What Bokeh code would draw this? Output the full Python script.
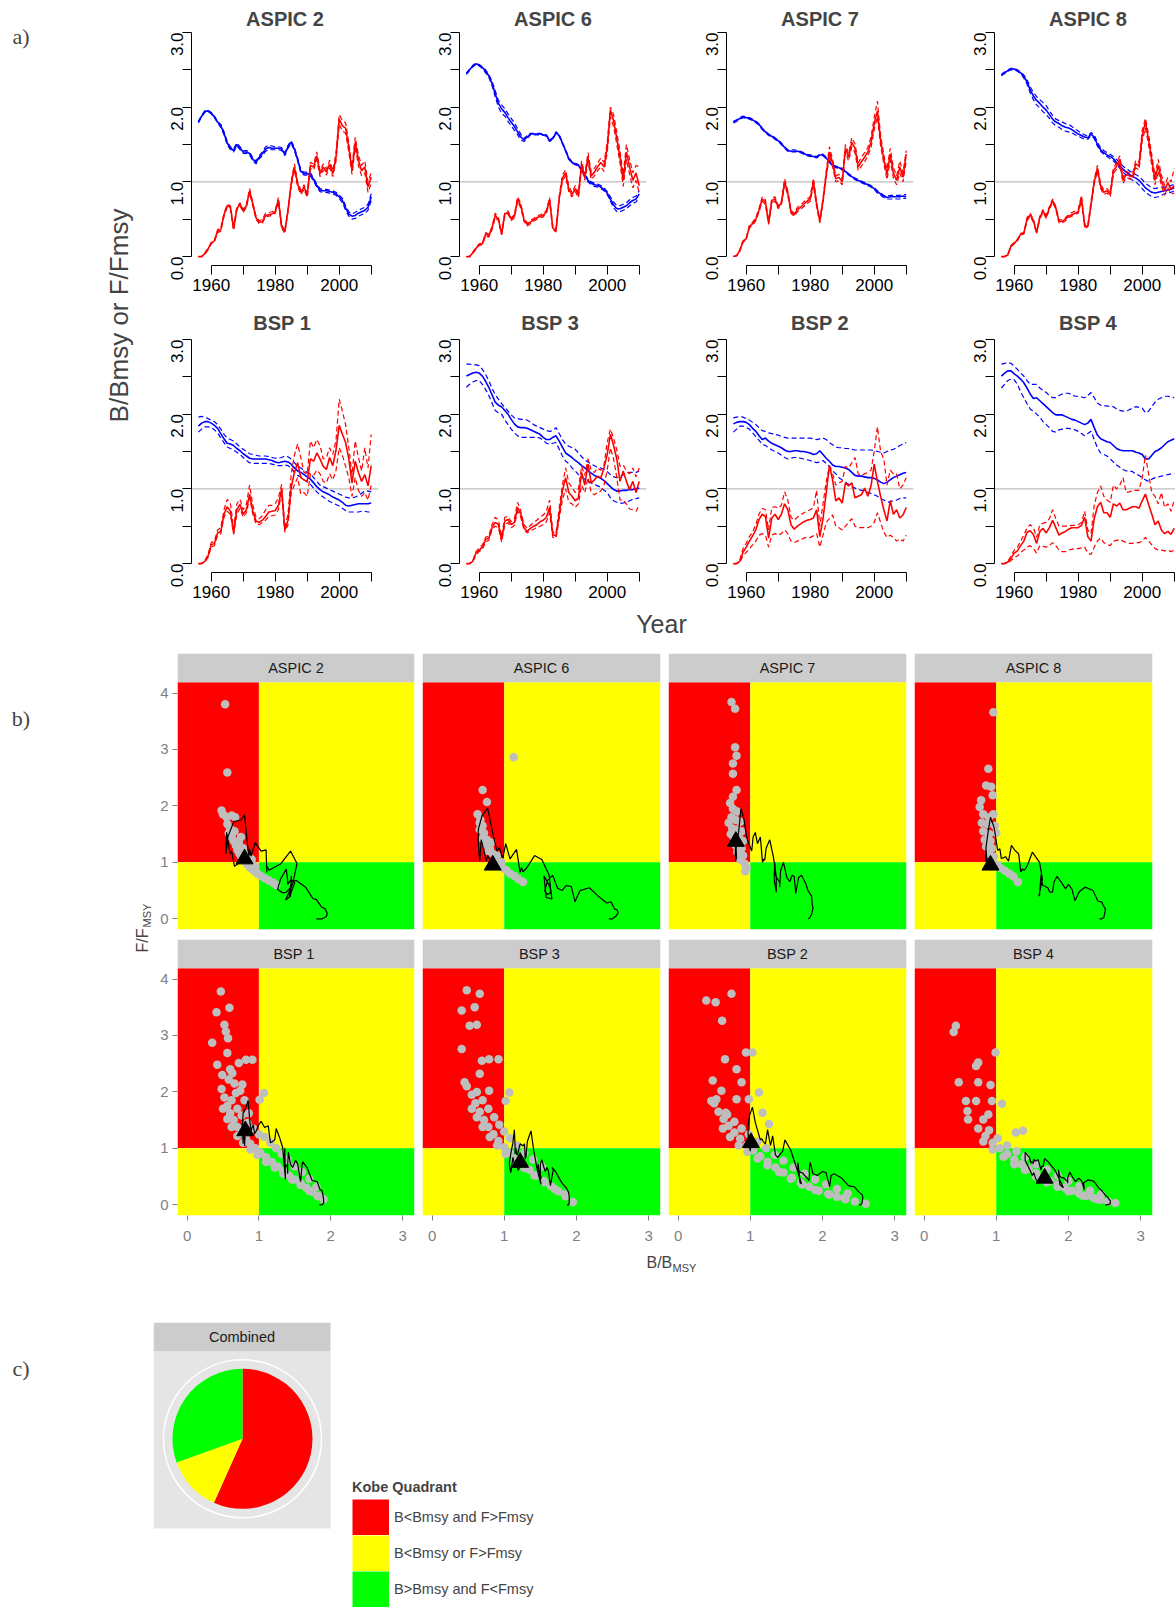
import math
from bokeh.plotting import figure
from bokeh.layouts import row, column
from bokeh.models import (Range1d, FixedTicker, Span, Label, BoxAnnotation, PrintfTickFormatter,
                          Legend, LegendItem)
from bokeh.embed import file_html
from bokeh.resources import INLINE

# ---------------- data: panel a (B/Bmsy blue, F/Fmsy red; median, lower, upper) ----------------
years = list(range(1956, 2011))

aspic2_b_med = [1.80,1.88,1.94,1.95,1.92,1.87,1.80,1.75,1.65,1.52,
 1.45,1.42,1.50,1.45,1.40,1.40,1.38,1.30,1.26,1.33,
 1.38,1.44,1.46,1.45,1.45,1.45,1.44,1.37,1.47,1.53,
 1.44,1.30,1.14,1.11,1.11,1.10,1.03,0.95,0.89,0.88,
 0.88,0.87,0.86,0.84,0.80,0.75,0.65,0.57,0.54,0.55,
 0.58,0.60,0.62,0.66,0.80]
aspic2_b_lo = [1.79,1.87,1.93,1.94,1.91,1.86,1.79,1.73,1.63,1.50,
 1.43,1.40,1.48,1.43,1.38,1.38,1.36,1.28,1.24,1.31,
 1.35,1.41,1.43,1.43,1.43,1.43,1.42,1.35,1.45,1.51,
 1.42,1.28,1.12,1.09,1.09,1.08,1.01,0.93,0.87,0.86,
 0.86,0.85,0.84,0.82,0.78,0.72,0.62,0.54,0.50,0.51,
 0.54,0.56,0.58,0.62,0.75]
aspic2_b_hi = [1.81,1.89,1.95,1.96,1.93,1.88,1.81,1.77,1.67,1.54,
 1.47,1.44,1.52,1.47,1.42,1.42,1.40,1.32,1.28,1.35,
 1.40,1.47,1.49,1.48,1.47,1.47,1.46,1.39,1.49,1.55,
 1.46,1.32,1.16,1.13,1.13,1.12,1.05,0.97,0.91,0.90,
 0.90,0.89,0.88,0.86,0.82,0.78,0.68,0.60,0.57,0.59,
 0.62,0.64,0.66,0.70,0.84]
aspic2_f_med = [0.00,0.00,0.04,0.10,0.18,0.21,0.34,0.36,0.56,0.68,
 0.66,0.37,0.64,0.70,0.61,0.68,0.88,0.70,0.52,0.46,
 0.47,0.55,0.56,0.57,0.60,0.76,0.40,0.33,0.62,0.98,
 1.20,0.97,0.86,0.93,0.82,1.22,1.20,1.35,1.11,1.20,
 1.13,1.24,1.11,1.33,1.84,1.75,1.72,1.46,1.15,1.53,
 1.29,1.15,1.20,0.93,1.06]
aspic2_f_lo = [0.00,0.00,0.03,0.09,0.17,0.20,0.32,0.34,0.54,0.66,
 0.64,0.35,0.62,0.68,0.59,0.66,0.85,0.68,0.50,0.44,
 0.45,0.53,0.54,0.55,0.58,0.73,0.38,0.31,0.60,0.95,
 1.16,0.94,0.83,0.90,0.79,1.18,1.16,1.30,1.07,1.16,
 1.09,1.19,1.07,1.28,1.77,1.68,1.65,1.40,1.10,1.46,
 1.22,1.08,1.12,0.86,0.98]
aspic2_f_hi = [0.00,0.00,0.05,0.11,0.19,0.22,0.36,0.38,0.58,0.70,
 0.68,0.39,0.66,0.72,0.63,0.70,0.91,0.72,0.54,0.48,
 0.50,0.58,0.59,0.60,0.62,0.79,0.42,0.35,0.64,1.01,
 1.24,1.00,0.89,0.96,0.85,1.26,1.24,1.40,1.15,1.24,
 1.17,1.29,1.15,1.38,1.90,1.82,1.79,1.52,1.20,1.60,
 1.36,1.22,1.28,1.00,1.12]

aspic6_b_med = [2.45,2.50,2.55,2.58,2.56,2.53,2.48,2.42,2.32,2.18,
 2.05,1.98,1.93,1.86,1.80,1.74,1.67,1.60,1.56,1.60,
 1.64,1.64,1.64,1.64,1.63,1.62,1.55,1.58,1.66,1.62,
 1.52,1.42,1.31,1.26,1.24,1.22,1.17,1.08,1.02,0.98,
 0.96,0.95,0.93,0.90,0.85,0.77,0.69,0.64,0.64,0.66,
 0.68,0.72,0.75,0.77,0.84]
aspic6_b_lo = [2.44,2.49,2.54,2.57,2.55,2.52,2.46,2.40,2.29,2.14,
 2.00,1.92,1.88,1.81,1.75,1.69,1.63,1.56,1.54,1.58,
 1.63,1.63,1.63,1.63,1.62,1.61,1.54,1.57,1.65,1.61,
 1.51,1.41,1.30,1.25,1.23,1.21,1.15,1.06,1.00,0.96,
 0.94,0.93,0.91,0.88,0.83,0.74,0.65,0.60,0.60,0.62,
 0.64,0.68,0.71,0.73,0.79]
aspic6_b_hi = [2.46,2.51,2.56,2.59,2.57,2.54,2.50,2.44,2.35,2.22,
 2.09,2.03,1.98,1.91,1.85,1.79,1.71,1.64,1.58,1.62,
 1.65,1.65,1.65,1.65,1.64,1.63,1.56,1.59,1.67,1.63,
 1.53,1.43,1.32,1.27,1.25,1.23,1.19,1.10,1.04,1.00,
 0.98,0.97,0.95,0.92,0.87,0.80,0.73,0.68,0.68,0.70,
 0.72,0.76,0.79,0.81,0.88]
aspic6_f_med = [0.00,0.00,0.05,0.11,0.16,0.17,0.30,0.28,0.38,0.55,
 0.50,0.30,0.57,0.59,0.50,0.54,0.77,0.68,0.49,0.43,
 0.46,0.49,0.52,0.54,0.55,0.60,0.76,0.38,0.35,0.78,
 1.05,1.12,0.90,0.83,0.91,0.82,1.23,1.06,1.33,1.08,
 1.13,1.20,1.26,1.20,1.46,1.96,1.82,1.58,1.33,1.02,
 1.40,1.20,1.02,1.12,0.95]
aspic6_f_lo = [0.00,0.00,0.04,0.10,0.15,0.16,0.28,0.26,0.36,0.52,
 0.48,0.29,0.55,0.57,0.48,0.52,0.74,0.65,0.47,0.41,
 0.44,0.47,0.50,0.52,0.53,0.58,0.73,0.36,0.33,0.75,
 1.01,1.08,0.86,0.80,0.87,0.79,1.18,1.02,1.27,1.03,
 1.08,1.15,1.20,1.14,1.39,1.87,1.74,1.50,1.25,0.94,
 1.30,1.10,0.92,1.02,0.86]
aspic6_f_hi = [0.00,0.00,0.06,0.12,0.17,0.18,0.32,0.30,0.40,0.58,
 0.52,0.31,0.59,0.61,0.52,0.56,0.80,0.71,0.51,0.45,
 0.48,0.51,0.54,0.56,0.57,0.62,0.79,0.40,0.37,0.81,
 1.09,1.16,0.94,0.86,0.95,0.85,1.28,1.10,1.39,1.13,
 1.18,1.25,1.32,1.26,1.53,2.00,1.90,1.66,1.41,1.10,
 1.50,1.30,1.12,1.22,1.20]

aspic7_b_med = [1.80,1.82,1.85,1.87,1.86,1.85,1.83,1.80,1.77,1.71,
 1.67,1.63,1.61,1.58,1.55,1.51,1.46,1.42,1.41,1.41,
 1.41,1.40,1.38,1.36,1.35,1.34,1.33,1.36,1.36,1.32,
 1.27,1.22,1.20,1.19,1.17,1.14,1.10,1.07,1.04,1.02,
 1.00,0.98,0.96,0.94,0.91,0.87,0.84,0.81,0.79,0.80,
 0.80,0.80,0.80,0.81,0.80]
aspic7_b_lo = [1.79,1.81,1.84,1.86,1.85,1.84,1.82,1.79,1.76,1.70,
 1.66,1.62,1.60,1.57,1.54,1.50,1.45,1.41,1.40,1.40,
 1.40,1.39,1.37,1.35,1.34,1.33,1.32,1.35,1.35,1.31,
 1.26,1.21,1.19,1.18,1.16,1.13,1.09,1.06,1.03,1.01,
 0.99,0.97,0.95,0.93,0.90,0.85,0.82,0.79,0.77,0.77,
 0.77,0.77,0.77,0.78,0.78]
aspic7_b_hi = [1.81,1.83,1.86,1.88,1.87,1.86,1.84,1.81,1.78,1.72,
 1.68,1.64,1.62,1.59,1.56,1.52,1.47,1.43,1.43,1.43,
 1.42,1.41,1.39,1.37,1.36,1.35,1.34,1.37,1.37,1.33,
 1.28,1.23,1.21,1.20,1.18,1.15,1.11,1.08,1.05,1.03,
 1.01,0.99,0.97,0.95,0.92,0.88,0.85,0.82,0.81,0.82,
 0.82,0.82,0.82,0.83,0.83]
aspic7_f_med = [0.00,0.01,0.08,0.20,0.24,0.40,0.44,0.50,0.62,0.77,
 0.73,0.45,0.75,0.77,0.66,0.72,1.00,0.85,0.60,0.56,
 0.63,0.66,0.70,0.74,0.77,1.00,0.70,0.47,0.75,1.10,
 1.40,1.25,1.04,1.06,1.00,1.45,1.33,1.53,1.45,1.20,
 1.27,1.33,1.40,1.53,1.78,1.95,1.55,1.30,1.10,1.37,
 1.12,1.02,1.20,1.06,1.37]
aspic7_f_lo = [0.00,0.01,0.07,0.19,0.23,0.38,0.42,0.48,0.60,0.74,
 0.70,0.43,0.72,0.74,0.64,0.70,0.96,0.82,0.58,0.54,
 0.60,0.63,0.67,0.71,0.74,0.96,0.67,0.45,0.72,1.06,
 1.35,1.20,1.00,1.02,0.96,1.40,1.28,1.47,1.39,1.15,
 1.21,1.27,1.34,1.46,1.70,1.87,1.48,1.24,1.03,1.29,
 1.05,0.96,1.12,1.00,1.28]
aspic7_f_hi = [0.00,0.01,0.09,0.21,0.25,0.42,0.46,0.52,0.64,0.80,
 0.76,0.47,0.78,0.80,0.68,0.74,1.04,0.88,0.62,0.58,
 0.66,0.69,0.73,0.77,0.80,1.05,0.73,0.49,0.78,1.14,
 1.47,1.30,1.08,1.10,1.04,1.50,1.38,1.59,1.51,1.25,
 1.33,1.39,1.46,1.60,1.86,2.08,1.62,1.36,1.17,1.45,
 1.19,1.08,1.28,1.12,1.42]

aspic8_b_med = [2.43,2.46,2.49,2.51,2.51,2.49,2.46,2.41,2.34,2.23,
 2.15,2.09,2.05,2.00,1.96,1.90,1.84,1.80,1.78,1.75,
 1.73,1.72,1.70,1.67,1.64,1.62,1.60,1.59,1.64,1.60,
 1.50,1.43,1.39,1.36,1.34,1.31,1.26,1.21,1.17,1.13,
 1.10,1.07,1.05,1.02,0.97,0.92,0.89,0.86,0.85,0.86,
 0.87,0.88,0.89,0.90,0.92]
aspic8_b_lo = [2.42,2.45,2.48,2.50,2.50,2.48,2.45,2.39,2.31,2.19,
 2.10,2.03,1.99,1.94,1.90,1.85,1.79,1.75,1.73,1.70,
 1.68,1.67,1.66,1.63,1.61,1.59,1.57,1.57,1.62,1.58,
 1.48,1.41,1.37,1.34,1.31,1.28,1.23,1.18,1.13,1.09,
 1.05,1.02,1.00,0.96,0.91,0.86,0.83,0.80,0.79,0.80,
 0.82,0.84,0.85,0.86,0.88]
aspic8_b_hi = [2.44,2.47,2.50,2.52,2.52,2.50,2.47,2.43,2.37,2.27,
 2.20,2.14,2.10,2.06,2.02,1.95,1.89,1.84,1.82,1.80,
 1.78,1.77,1.74,1.71,1.68,1.65,1.63,1.61,1.66,1.63,
 1.53,1.46,1.42,1.39,1.37,1.34,1.30,1.25,1.21,1.18,
 1.15,1.12,1.10,1.07,1.03,0.98,0.95,0.92,0.91,0.92,
 0.93,0.93,0.93,0.95,0.97]
aspic8_f_med = [0.00,0.00,0.02,0.14,0.18,0.22,0.30,0.31,0.50,0.56,
 0.48,0.32,0.52,0.61,0.53,0.65,0.75,0.65,0.47,0.47,
 0.50,0.54,0.56,0.58,0.60,0.78,0.42,0.40,0.70,1.00,
 1.18,0.94,0.86,0.88,0.83,1.15,1.21,1.30,1.02,1.10,
 1.08,1.07,1.24,1.21,1.62,1.80,1.56,1.29,1.02,1.22,
 1.02,0.88,0.99,0.90,0.95]
aspic8_f_lo = [0.00,0.00,0.02,0.13,0.17,0.21,0.29,0.30,0.48,0.54,
 0.46,0.31,0.50,0.59,0.51,0.63,0.73,0.63,0.45,0.45,
 0.48,0.52,0.54,0.56,0.58,0.75,0.40,0.38,0.67,0.97,
 1.14,0.91,0.83,0.85,0.80,1.11,1.17,1.25,0.98,1.06,
 1.04,1.03,1.19,1.16,1.55,1.72,1.49,1.22,0.96,1.14,
 0.95,0.82,0.92,0.84,0.85]
aspic8_f_hi = [0.00,0.00,0.03,0.15,0.19,0.23,0.31,0.32,0.52,0.58,
 0.50,0.33,0.54,0.63,0.55,0.67,0.77,0.67,0.49,0.49,
 0.52,0.56,0.59,0.61,0.63,0.82,0.44,0.42,0.73,1.03,
 1.22,0.97,0.89,0.91,0.86,1.19,1.25,1.35,1.06,1.14,
 1.12,1.11,1.29,1.26,1.69,1.85,1.63,1.36,1.08,1.30,
 1.09,0.95,1.06,1.00,1.18]

bsp1_b_med = [1.84,1.88,1.90,1.90,1.88,1.85,1.81,1.74,1.67,1.61,
 1.60,1.58,1.54,1.51,1.47,1.44,1.41,1.40,1.40,1.40,
 1.40,1.40,1.39,1.38,1.36,1.35,1.36,1.37,1.36,1.33,
 1.28,1.24,1.22,1.19,1.16,1.13,1.08,1.03,0.99,0.96,
 0.94,0.92,0.89,0.87,0.85,0.82,0.78,0.77,0.78,0.79,
 0.80,0.80,0.80,0.80,0.81]
bsp1_b_hi = [1.96,1.97,1.96,1.94,1.92,1.90,1.86,1.80,1.73,1.68,
 1.66,1.64,1.60,1.56,1.53,1.50,1.47,1.46,1.45,1.44,
 1.44,1.44,1.43,1.42,1.41,1.41,1.42,1.44,1.43,1.40,
 1.35,1.30,1.28,1.25,1.22,1.20,1.15,1.10,1.05,1.03,
 1.01,0.99,0.97,0.95,0.93,0.91,0.89,0.88,0.88,0.89,
 0.91,0.94,0.97,0.97,0.96]
bsp1_b_lo = [1.76,1.80,1.83,1.83,1.82,1.79,1.75,1.68,1.62,1.56,
 1.54,1.52,1.49,1.46,1.42,1.38,1.35,1.34,1.34,1.34,
 1.34,1.34,1.34,1.33,1.32,1.31,1.31,1.32,1.31,1.28,
 1.22,1.18,1.16,1.12,1.09,1.06,1.01,0.96,0.92,0.89,
 0.86,0.83,0.81,0.79,0.77,0.74,0.71,0.69,0.69,0.69,
 0.69,0.70,0.70,0.69,0.69]
bsp1_f_med = [0.00,0.00,0.03,0.10,0.25,0.27,0.41,0.43,0.66,0.76,
 0.70,0.41,0.72,0.79,0.66,0.72,0.93,0.70,0.57,0.55,
 0.58,0.63,0.69,0.70,0.71,0.78,1.00,0.45,0.58,1.02,
 1.22,1.35,1.15,1.12,1.10,1.40,1.37,1.48,1.40,1.30,
 1.26,1.42,1.31,1.52,1.85,1.73,1.62,1.40,1.08,1.37,
 1.22,1.10,1.19,1.04,1.31]
bsp1_f_hi = [0.00,0.00,0.04,0.12,0.28,0.30,0.45,0.48,0.72,0.86,
 0.80,0.47,0.80,0.86,0.72,0.80,1.05,0.78,0.62,0.60,
 0.64,0.72,0.78,0.78,0.80,0.88,1.06,0.48,0.66,1.20,
 1.45,1.60,1.42,1.22,1.20,1.64,1.55,1.66,1.58,1.40,
 1.42,1.55,1.46,1.65,2.20,2.04,1.86,1.55,1.19,1.64,
 1.42,1.24,1.55,1.28,1.73]
bsp1_f_lo = [0.00,0.00,0.02,0.08,0.22,0.24,0.38,0.40,0.62,0.70,
 0.66,0.39,0.66,0.74,0.62,0.68,0.88,0.66,0.53,0.52,
 0.55,0.58,0.63,0.64,0.65,0.72,0.95,0.42,0.52,0.95,
 1.05,1.15,0.93,0.95,0.90,1.20,1.18,1.25,1.20,1.10,
 1.08,1.20,1.12,1.25,1.55,1.45,1.30,1.15,0.90,1.15,
 0.98,0.90,0.95,0.85,1.05]

bsp3_b_med = [2.51,2.53,2.55,2.56,2.55,2.51,2.44,2.36,2.26,2.16,
 2.12,2.10,2.05,2.00,1.93,1.87,1.83,1.82,1.82,1.81,
 1.79,1.77,1.75,1.73,1.69,1.66,1.66,1.69,1.71,1.64,
 1.56,1.48,1.45,1.42,1.38,1.35,1.31,1.28,1.24,1.21,
 1.18,1.16,1.14,1.11,1.07,1.03,0.99,0.97,0.97,0.98,
 0.98,0.99,0.99,1.00,1.01]
bsp3_b_hi = [2.67,2.67,2.66,2.66,2.65,2.60,2.53,2.45,2.35,2.26,
 2.20,2.14,2.09,2.04,1.99,1.95,1.94,1.93,1.93,1.92,
 1.89,1.86,1.84,1.82,1.80,1.78,1.77,1.78,1.82,1.74,
 1.66,1.60,1.57,1.55,1.53,1.48,1.43,1.39,1.36,1.33,
 1.31,1.29,1.28,1.26,1.23,1.19,1.16,1.15,1.16,1.19,
 1.21,1.22,1.22,1.22,1.24]
bsp3_b_lo = [2.36,2.40,2.43,2.45,2.45,2.40,2.33,2.25,2.15,2.05,
 2.02,2.00,1.92,1.86,1.80,1.75,1.71,1.69,1.69,1.69,
 1.69,1.69,1.69,1.68,1.65,1.61,1.60,1.61,1.62,1.53,
 1.44,1.37,1.34,1.28,1.24,1.19,1.16,1.13,1.10,1.08,
 1.06,1.04,1.02,0.98,0.95,0.88,0.84,0.82,0.81,0.81,
 0.82,0.84,0.86,0.87,0.88]
bsp3_f_med = [0.00,0.00,0.03,0.14,0.18,0.22,0.32,0.34,0.48,0.55,
 0.52,0.32,0.57,0.59,0.52,0.55,0.75,0.66,0.48,0.43,
 0.47,0.50,0.52,0.56,0.58,0.62,0.75,0.39,0.37,0.66,
 0.97,1.15,0.95,0.90,0.84,0.88,1.22,1.05,1.33,1.08,
 1.12,1.17,1.15,1.28,1.46,1.73,1.58,1.40,1.10,1.24,
 1.10,0.99,1.10,0.95,1.10]
bsp3_f_hi = [0.00,0.00,0.04,0.16,0.21,0.25,0.35,0.37,0.52,0.62,
 0.58,0.36,0.62,0.63,0.56,0.60,0.82,0.70,0.52,0.47,
 0.51,0.55,0.58,0.62,0.65,0.70,0.85,0.42,0.40,0.75,
 1.05,1.28,1.08,1.02,0.95,1.00,1.30,1.18,1.40,1.25,
 1.22,1.28,1.25,1.32,1.62,1.80,1.68,1.52,1.30,1.32,
 1.24,1.20,1.28,1.16,1.28]
bsp3_f_lo = [0.00,0.00,0.02,0.12,0.16,0.19,0.29,0.31,0.45,0.50,
 0.48,0.29,0.52,0.55,0.48,0.51,0.70,0.62,0.45,0.41,
 0.44,0.46,0.48,0.50,0.52,0.56,0.68,0.35,0.34,0.60,
 0.85,1.00,0.82,0.80,0.75,0.80,1.05,0.95,1.15,0.95,
 0.92,0.95,0.97,1.05,1.25,1.55,1.40,1.15,0.85,0.85,
 0.80,0.73,0.72,0.70,0.78]

bsp2_b_med = [1.87,1.89,1.90,1.90,1.89,1.86,1.81,1.77,1.71,1.66,
 1.68,1.64,1.61,1.59,1.57,1.55,1.52,1.50,1.50,1.51,
 1.51,1.50,1.50,1.49,1.48,1.46,1.47,1.51,1.46,1.41,
 1.37,1.32,1.30,1.30,1.29,1.28,1.26,1.22,1.18,1.17,
 1.17,1.16,1.15,1.15,1.14,1.12,1.09,1.07,1.09,1.12,
 1.15,1.17,1.19,1.21,1.22]
bsp2_b_hi = [1.95,1.96,1.97,1.96,1.94,1.92,1.89,1.86,1.82,1.78,
 1.77,1.75,1.74,1.73,1.72,1.70,1.69,1.68,1.68,1.68,
 1.68,1.68,1.68,1.68,1.68,1.67,1.66,1.67,1.68,1.66,
 1.62,1.59,1.56,1.55,1.55,1.54,1.54,1.53,1.52,1.52,
 1.52,1.52,1.52,1.52,1.51,1.50,1.49,1.48,1.50,1.52,
 1.53,1.55,1.58,1.60,1.62]
bsp2_b_lo = [1.76,1.80,1.84,1.84,1.82,1.80,1.75,1.70,1.65,1.60,
 1.58,1.55,1.52,1.50,1.48,1.45,1.42,1.40,1.41,1.42,
 1.42,1.41,1.40,1.39,1.38,1.36,1.35,1.36,1.38,1.34,
 1.30,1.24,1.20,1.15,1.12,1.09,1.06,1.03,1.01,0.99,
 0.98,0.97,0.95,0.94,0.92,0.90,0.87,0.85,0.82,0.83,
 0.84,0.85,0.87,0.88,0.88]
bsp2_f_med = [0.00,0.00,0.03,0.15,0.22,0.30,0.37,0.45,0.59,0.66,
 0.63,0.34,0.61,0.66,0.59,0.66,0.80,0.72,0.52,0.46,
 0.50,0.53,0.56,0.58,0.59,0.61,0.72,0.36,0.60,0.95,
 1.31,1.12,0.84,0.88,0.81,1.08,1.04,1.08,0.88,0.90,
 0.92,1.01,0.90,1.04,1.33,1.10,0.90,0.72,0.57,0.84,
 0.66,0.72,0.61,0.65,0.75]
bsp2_f_hi = [0.00,0.00,0.05,0.20,0.27,0.36,0.42,0.52,0.66,0.74,
 0.72,0.45,0.75,0.76,0.74,0.78,0.96,0.85,0.62,0.58,
 0.62,0.65,0.68,0.70,0.72,0.75,0.98,0.50,0.80,1.10,
 1.30,1.20,1.05,1.08,1.10,1.30,1.28,1.35,1.42,1.20,
 1.18,1.20,1.22,1.25,1.50,1.83,1.50,1.40,1.05,1.25,
 1.20,1.20,1.00,1.05,1.15]
bsp2_f_lo = [0.00,0.00,0.02,0.10,0.15,0.20,0.25,0.30,0.38,0.40,
 0.38,0.22,0.38,0.40,0.38,0.40,0.45,0.40,0.30,0.28,
 0.30,0.32,0.34,0.35,0.35,0.37,0.40,0.22,0.38,0.55,
 0.60,0.65,0.50,0.48,0.45,0.50,0.55,0.60,0.50,0.48,
 0.48,0.48,0.48,0.50,0.55,0.68,0.55,0.42,0.35,0.38,
 0.35,0.30,0.33,0.30,0.38]

bsp4_b_med = [2.51,2.55,2.58,2.58,2.54,2.51,2.47,2.42,2.35,2.27,
 2.21,2.22,2.18,2.14,2.10,2.06,2.02,1.99,1.99,1.99,
 1.97,1.95,1.93,1.92,1.90,1.88,1.86,1.88,1.93,1.82,
 1.72,1.67,1.65,1.63,1.62,1.58,1.54,1.52,1.51,1.51,
 1.51,1.51,1.49,1.48,1.46,1.40,1.40,1.45,1.50,1.52,
 1.55,1.59,1.63,1.65,1.67]
bsp4_b_hi = [2.67,2.68,2.69,2.68,2.64,2.60,2.55,2.51,2.45,2.40,
 2.40,2.40,2.35,2.32,2.29,2.25,2.22,2.22,2.25,2.27,
 2.28,2.28,2.26,2.24,2.24,2.23,2.22,2.25,2.29,2.22,
 2.15,2.12,2.11,2.11,2.10,2.10,2.07,2.05,2.04,2.04,
 2.06,2.08,2.10,2.09,2.08,2.02,2.04,2.10,2.16,2.20,
 2.22,2.24,2.24,2.23,2.22]
bsp4_b_lo = [2.35,2.40,2.45,2.47,2.46,2.40,2.30,2.22,2.14,2.07,
 2.04,2.00,1.96,1.90,1.86,1.82,1.77,1.76,1.79,1.80,
 1.81,1.81,1.80,1.79,1.77,1.74,1.71,1.74,1.77,1.66,
 1.55,1.48,1.46,1.44,1.40,1.36,1.32,1.29,1.26,1.24,
 1.24,1.23,1.20,1.18,1.15,1.12,1.10,1.13,1.15,1.16,
 1.17,1.18,1.19,1.20,1.21]
bsp4_f_med = [0.00,0.00,0.02,0.07,0.14,0.17,0.24,0.30,0.42,0.44,
 0.39,0.27,0.43,0.47,0.41,0.48,0.58,0.48,0.38,0.41,
 0.43,0.46,0.48,0.48,0.48,0.51,0.62,0.36,0.30,0.60,
 0.76,0.82,0.68,0.68,0.62,0.80,0.77,0.81,0.72,0.72,
 0.74,0.76,0.76,0.74,0.84,0.93,0.79,0.66,0.52,0.57,
 0.45,0.40,0.43,0.39,0.47]
bsp4_f_hi = [0.00,0.00,0.03,0.10,0.18,0.22,0.30,0.38,0.48,0.52,
 0.48,0.35,0.52,0.54,0.55,0.60,0.72,0.60,0.50,0.50,
 0.50,0.50,0.51,0.51,0.52,0.55,0.70,0.45,0.40,0.78,
 0.95,1.04,0.90,0.85,0.82,1.05,1.00,1.05,1.15,0.95,
 0.96,0.98,0.98,0.98,1.15,1.45,1.20,0.95,0.90,0.80,
 0.95,0.75,0.80,0.70,0.85]
bsp4_f_lo = [0.00,0.00,0.01,0.04,0.08,0.10,0.15,0.18,0.22,0.24,
 0.20,0.14,0.24,0.23,0.22,0.24,0.28,0.24,0.18,0.16,
 0.16,0.18,0.19,0.20,0.20,0.21,0.22,0.14,0.12,0.22,
 0.30,0.34,0.28,0.26,0.24,0.30,0.31,0.32,0.30,0.28,
 0.27,0.27,0.28,0.28,0.30,0.35,0.30,0.25,0.20,0.18,
 0.18,0.17,0.18,0.16,0.18]

# ---------------- data: panel b (uncertainty clouds of the final year, (B/Bmsy, F/Fmsy)) ----------------
cloud_aspic2 = [(0.53,3.80),(0.56,2.59),(0.48,1.92),(0.50,1.85),(0.55,1.80),(0.62,1.83),(0.67,1.80),
 (0.56,1.68),(0.60,1.60),(0.58,1.52),(0.62,1.45),(0.65,1.38),(0.68,1.30),(0.70,1.22),(0.73,1.15),
 (0.76,1.08),(0.80,1.02),(0.84,0.96),(0.88,0.90),(0.93,0.85),(0.98,0.80),(1.03,0.76),(1.08,0.72),
 (1.14,0.68),(1.20,0.64),(1.24,0.60),(0.72,1.35),(0.78,1.25),(0.85,1.12),(0.80,1.15),(0.90,1.05),
 (0.66,1.55),(0.75,1.45),(0.95,0.92)]
cloud_aspic6 = [(1.13,2.86),(0.70,2.28),(0.76,2.07),(0.63,1.85),(0.67,1.75),(0.70,1.65),(0.66,1.58),
 (0.72,1.52),(0.70,1.42),(0.76,1.40),(0.74,1.32),(0.80,1.25),(0.84,1.15),(0.78,1.20),(0.88,1.08),
 (0.86,1.00),(0.93,0.95),(0.98,0.90),(1.03,0.86),(1.08,0.80),(1.14,0.76),(1.20,0.70),(1.26,0.65),
 (0.96,1.00),(0.90,1.12),(0.82,1.35),(0.66,1.70)]
cloud_aspic7 = [(0.74,3.84),(0.79,3.72),(0.79,3.04),(0.81,2.89),(0.76,2.75),(0.76,2.57),(0.81,2.28),
 (0.76,2.16),(0.72,2.05),(0.76,1.95),(0.82,1.90),(0.74,1.80),(0.80,1.75),(0.86,1.72),(0.75,1.60),
 (0.82,1.58),(0.88,1.55),(0.77,1.45),(0.85,1.42),(0.90,1.38),(0.80,1.30),(0.88,1.25),(0.82,1.18),
 (0.90,1.12),(0.86,1.05),(0.92,0.98),(0.95,0.90),(0.93,0.84),(0.70,1.70),(0.73,1.50)]
cloud_aspic8 = [(0.96,3.66),(0.89,2.66),(0.86,2.36),(0.93,2.34),(0.95,2.19),(0.79,2.10),(0.77,1.98),
 (0.82,1.85),(0.90,1.80),(0.96,1.85),(0.80,1.70),(0.88,1.68),(0.98,1.65),(0.82,1.55),(0.90,1.50),
 (1.00,1.52),(0.84,1.40),(0.92,1.38),(0.86,1.28),(0.94,1.25),(0.90,1.15),(0.97,1.10),(0.95,1.02),
 (1.02,0.95),(1.06,0.90),(1.12,0.85),(1.18,0.80),(1.24,0.75),(1.30,0.65)]
cloud_bsp1 = [(0.47,3.78),(0.41,3.41),(0.59,3.49),(0.52,3.19),(0.54,3.07),(0.57,2.95),(0.35,2.87),
 (0.56,2.69),(0.42,2.48),(0.72,2.51),(0.82,2.57),(0.91,2.57),(1.07,1.98),(1.01,1.86),(0.63,2.33),
 (0.49,2.30),(0.77,2.13),(0.68,1.98),(0.58,2.22),(0.66,2.15),(0.74,2.02),(0.60,2.40),(0.86,1.62),
 (0.80,1.85),
 (0.48,2.05),(0.52,1.90),(0.56,1.75),(0.60,1.62),(0.65,1.50),(0.70,1.38),(0.76,1.27),(0.82,1.17),
 (0.88,1.08),(0.95,1.00),(1.02,0.92),(1.10,0.84),(1.18,0.76),(1.26,0.68),(1.34,0.60),(1.42,0.52),
 (1.50,0.45),(1.58,0.38),(1.66,0.30),(1.74,0.23),(1.82,0.16),(1.90,0.10),
 (0.62,1.85),(0.70,1.70),(0.76,1.58),(0.84,1.45),(0.92,1.35),(1.00,1.25),(1.08,1.20),(1.16,1.10),
 (1.24,1.00),(1.32,0.90),(1.40,0.80),(1.50,0.68),(1.60,0.58),(1.70,0.46),(1.80,0.32),
 (0.50,1.70),(0.56,1.52),(0.62,1.38),(0.70,1.22),(0.78,1.10),(0.88,0.98),(0.98,0.88),(1.10,0.76),
 (1.22,0.66),(1.34,0.55),(1.46,0.45),(1.58,0.35),(1.70,0.25),(1.82,0.15)]
cloud_bsp3 = [(0.48,3.80),(0.66,3.74),(0.41,3.44),(0.59,3.50),(0.52,3.17),(0.62,3.19),(0.41,2.76),
 (0.69,2.55),(0.79,2.58),(0.92,2.58),(0.66,2.32),(1.07,1.99),(1.02,1.84),(0.79,2.02),(0.45,2.17),
 (0.48,2.10),(0.55,1.95),(0.60,1.80),(0.66,1.65),(0.72,1.50),(0.78,1.38),(0.85,1.25),(0.92,1.13),
 (1.00,1.02),(1.08,0.92),(1.16,0.82),(1.25,0.72),(1.35,0.62),(1.45,0.52),(1.55,0.42),(1.65,0.33),
 (1.75,0.24),(1.85,0.15),(1.95,0.05),
 (0.62,2.00),(0.70,1.85),(0.78,1.70),(0.86,1.55),(0.93,1.42),(1.00,1.30),(1.08,1.18),(1.18,1.05),
 (1.28,0.92),(1.40,0.80),(1.52,0.68),
 (0.55,1.70),(0.62,1.55),(0.70,1.38),(0.80,1.20),(0.90,1.05),(1.02,0.90),(1.14,0.78),(1.28,0.65),
 (1.42,0.52),(1.56,0.40),(1.70,0.28),(1.84,0.18)]
cloud_bsp2 = [(0.39,3.62),(0.52,3.59),(0.74,3.74),(0.61,3.26),(0.94,2.70),(1.03,2.70),(0.65,2.58),
 (0.48,2.20),(0.81,2.40),(0.88,2.17),(0.60,2.02),(0.81,1.87),(1.12,1.99),(0.98,1.87),(0.66,1.63),
 (1.17,1.63),(1.26,1.43),(0.53,1.87),(0.46,1.84),
 (0.50,1.80),(0.56,1.65),(0.63,1.52),(0.70,1.40),(0.78,1.28),(0.86,1.17),(0.95,1.06),(1.04,0.96),
 (1.14,0.86),(1.24,0.76),(1.35,0.66),(1.46,0.57),(1.58,0.48),(1.70,0.39),(1.82,0.32),(1.95,0.25),
 (2.08,0.19),(2.20,0.14),(2.32,0.10),(2.45,0.06),(2.60,0.02),
 (0.68,1.60),(0.78,1.47),(0.88,1.35),(0.98,1.25),(1.10,1.12),(1.22,1.00),(1.34,0.88),(1.46,0.78),
 (1.60,0.66),(1.75,0.55),(1.90,0.45),(2.05,0.36),(2.20,0.28),(2.35,0.20),
 (0.62,1.35),(0.72,1.20),(0.84,1.05),(0.96,0.94),(1.10,0.82),(1.24,0.70),(1.40,0.58),(1.56,0.46),
 (1.72,0.36),(1.90,0.26),(2.10,0.18),(2.30,0.12)]
cloud_bsp4 = [(0.44,3.17),(0.41,3.06),(0.99,2.70),(0.75,2.52),(0.72,2.46),(0.48,2.17),(0.75,2.17),
 (0.92,2.12),(0.58,1.84),(0.72,1.84),(0.94,1.84),(1.08,1.79),(0.60,1.66),(0.89,1.60),(0.82,1.51),
 (1.27,1.28),(1.37,1.31),(0.61,1.51),
 (0.75,1.35),(0.85,1.22),(0.95,1.10),(1.05,1.00),(1.15,0.90),(1.25,0.80),(1.35,0.72),(1.45,0.64),
 (1.55,0.56),(1.65,0.49),(1.75,0.42),(1.85,0.36),(1.95,0.30),(2.05,0.25),(2.15,0.20),(2.25,0.16),
 (2.35,0.12),(2.45,0.09),(2.55,0.06),(2.65,0.03),
 (0.90,1.32),(1.02,1.18),(1.15,1.05),(1.28,0.95),(1.40,0.85),(1.55,0.72),(1.70,0.62),(1.85,0.52),
 (2.00,0.42),(2.15,0.33),(2.30,0.25),(2.45,0.18),
 (0.82,1.12),(0.95,0.98),(1.10,0.85),(1.25,0.72),(1.40,0.62),(1.55,0.50),(1.70,0.40),(1.85,0.32),
 (2.00,0.24),(2.20,0.16),(2.40,0.10)]

# ---------------- data: panel c ----------------
pie_labels = ["B<Bmsy and F>Fmsy", "B<Bmsy or F>Fmsy", "B>Bmsy and F<Fmsy"]
pie_share = [0.567, 0.128, 0.305]

BMSY = 1.0
FMSY = 1.0

ts_panels = [
    ("ASPIC 2", (aspic2_b_med, aspic2_b_lo, aspic2_b_hi, aspic2_f_med, aspic2_f_lo, aspic2_f_hi)),
    ("ASPIC 6", (aspic6_b_med, aspic6_b_lo, aspic6_b_hi, aspic6_f_med, aspic6_f_lo, aspic6_f_hi)),
    ("ASPIC 7", (aspic7_b_med, aspic7_b_lo, aspic7_b_hi, aspic7_f_med, aspic7_f_lo, aspic7_f_hi)),
    ("ASPIC 8", (aspic8_b_med, aspic8_b_lo, aspic8_b_hi, aspic8_f_med, aspic8_f_lo, aspic8_f_hi)),
    ("BSP  1", (bsp1_b_med, bsp1_b_lo, bsp1_b_hi, bsp1_f_med, bsp1_f_lo, bsp1_f_hi)),
    ("BSP  3", (bsp3_b_med, bsp3_b_lo, bsp3_b_hi, bsp3_f_med, bsp3_f_lo, bsp3_f_hi)),
    ("BSP 2", (bsp2_b_med, bsp2_b_lo, bsp2_b_hi, bsp2_f_med, bsp2_f_lo, bsp2_f_hi)),
    ("BSP 4", (bsp4_b_med, bsp4_b_lo, bsp4_b_hi, bsp4_f_med, bsp4_f_lo, bsp4_f_hi)),
]
for _n, _s in ts_panels:
    for _a in _s:
        assert len(_a) == len(years), _n

kobe_panels = [
    ("ASPIC 2", cloud_aspic2, aspic2_b_med, aspic2_f_med),
    ("ASPIC 6", cloud_aspic6, aspic6_b_med, aspic6_f_med),
    ("ASPIC 7", cloud_aspic7, aspic7_b_med, aspic7_f_med),
    ("ASPIC 8", cloud_aspic8, aspic8_b_med, aspic8_f_med),
    ("BSP  1", cloud_bsp1, bsp1_b_med, bsp1_f_med),
    ("BSP  3", cloud_bsp3, bsp2_b_med, bsp2_f_med),
    ("BSP 2", cloud_bsp2, bsp3_b_med, bsp3_f_med),
    ("BSP 4", cloud_bsp4, bsp4_b_med, bsp4_f_med),
]

SANS = "Liberation Sans"
SERIF = "Liberation Serif"
RED, YEL, GRN = "#FF0000", "#FFFF00", "#00FF00"


def blank(w, h):
    p = figure(width=w, height=h, x_range=Range1d(0, w), y_range=Range1d(h, 0),
               output_backend="svg", toolbar_location=None,
               x_axis_location=None, y_axis_location=None,
               min_border=0, outline_line_color=None)
    p.grid.visible = False
    return p


# ---------------- section a ----------------
PX_YR = 3.2
X0 = 1953.84
PLOT_H = 242
PX_UNIT = PLOT_H / 3.24


def ts_panel(name, series, width, frame_w, top, bottom, title_px):
    b_med, b_lo, b_hi, f_med, f_lo, f_hi = series
    # the frame reaches the top of the figure so that the title lies inside it
    p = figure(width=width, height=top + PLOT_H + bottom,
               x_range=Range1d(X0, X0 + frame_w / PX_YR),
               y_range=Range1d(-0.12, 3.12 + top / PX_UNIT),
               output_backend="svg", toolbar_location=None,
               min_border_left=56, min_border_right=width - 56 - frame_w,
               min_border_top=0, min_border_bottom=bottom,
               outline_line_color=None)
    p.grid.visible = False
    p.add_layout(Span(location=1.0, dimension="width", line_color="#BEBEBE",
                      line_width=1.3, level="underlay"))
    for ys, dash, lw in ((b_lo, "5 3", 1.2), (b_hi, "5 3", 1.2), (b_med, "solid", 1.6)):
        p.line(years, ys, line_color="#0000FF", line_width=lw, line_dash=dash)
    for ys, dash, lw in ((f_lo, "5 3", 1.2), (f_hi, "5 3", 1.2), (f_med, "solid", 1.6)):
        p.line(years, ys, line_color="#FF0000", line_width=lw, line_dash=dash)
    p.xaxis.ticker = FixedTicker(ticks=[1960, 1980, 2000], minor_ticks=[1970, 1990, 2010])
    p.xaxis.bounds = (1960, 2010)
    p.yaxis.ticker = FixedTicker(ticks=[0, 1, 2, 3], minor_ticks=[0.5, 1.5, 2.5])
    p.yaxis.bounds = (0, 3)
    p.yaxis.formatter = PrintfTickFormatter(format="%.1f")
    p.yaxis.major_label_orientation = math.pi / 2
    for ax in p.axis:
        ax.axis_line_color = "black"
        ax.major_tick_line_color = "black"
        ax.minor_tick_line_color = "black"
        ax.major_tick_out = 9
        ax.major_tick_in = 0
        ax.minor_tick_out = 9
        ax.minor_tick_in = 0
        ax.major_label_text_font = SANS
        ax.major_label_text_font_size = "17px"
        ax.major_label_text_color = "black"
    p.xaxis.major_label_standoff = 4
    p.yaxis.major_label_standoff = 5
    p.add_layout(Label(x=X0 + 187 / PX_YR / 2, y=3.12 + (top - title_px) / PX_UNIT, text=name,
                       text_font=SANS, text_font_style="bold", text_font_size="20px",
                       text_align="center", text_baseline="middle"))
    return p


col_w = [268, 267, 268, 237]
col_f = [187, 187, 187, 181]
rowA1 = [ts_panel(ts_panels[i][0], ts_panels[i][1], col_w[i], col_f[i], 23, 41, 18) for i in range(4)]
rowA2 = [ts_panel(ts_panels[i + 4][0], ts_panels[i + 4][1], col_w[i], col_f[i], 24, 36, 16.7) for i in range(4)]

leftA = blank(135, 640)
leftA.add_layout(Label(x=20.5, y=36, text="a)", text_font=SERIF, text_font_size="22px",
                       text_align="center", text_baseline="middle"))
leftA.add_layout(Label(x=118, y=315, text="B/Bmsy or F/Fmsy", text_font=SANS, text_font_size="26px",
                       angle=math.pi / 2, text_align="center", text_baseline="middle"))
yearfig = blank(1040, 32)
yearfig.add_layout(Label(x=526, y=15, text="Year", text_font=SANS, text_font_size="25px",
                         text_align="center", text_baseline="middle"))

secA = row(leftA, column(row(*rowA1), row(*rowA2), yearfig))

# ---------------- section b ----------------
KX = (-0.133, 3.165)
KY = (-0.19, 4.70)
KTOP = 4.19
K_FRAME_H = 276


def kobe_panel(name, cloud, tb, tf, width, left, right, top, bottom, show_x, show_y):
    p = figure(width=width, height=top + K_FRAME_H + bottom,
               x_range=Range1d(*KX), y_range=Range1d(*KY),
               output_backend="svg", toolbar_location=None,
               x_axis_location="below" if show_x else None,
               y_axis_location="left" if show_y else None,
               min_border_left=left, min_border_right=right,
               min_border_top=top, min_border_bottom=bottom,
               outline_line_color=None)
    p.grid.visible = False
    quads = [(None, BMSY, FMSY, KTOP, RED), (BMSY, None, FMSY, KTOP, YEL),
             (None, BMSY, None, FMSY, YEL), (BMSY, None, None, FMSY, GRN)]
    for l, r, b, t, c in quads:
        kw = dict(fill_color=c, fill_alpha=1.0, line_color=None, level="underlay", top=t)
        if l is not None:
            kw["left"] = l
        if r is not None:
            kw["right"] = r
        if b is not None:
            kw["bottom"] = b
        p.add_layout(BoxAnnotation(**kw))
    p.add_layout(BoxAnnotation(bottom=KTOP, fill_color="#CCCCCC", fill_alpha=1.0,
                               line_color=None, level="underlay"))
    p.add_layout(Label(x=(KX[0] + KX[1]) / 2, y=(KTOP + KY[1]) / 2, text=name, text_font=SANS,
                       text_font_size="14.5px", text_color="#1A1A1A",
                       text_align="center", text_baseline="middle"))
    cb = [c[0] for c in cloud]
    cf = [c[1] for c in cloud]
    p.scatter(cb, cf, size=8.5, fill_color="#BEBEBE", line_color=None)
    p.line(tb, tf, line_color="black", line_width=1.2)
    p.scatter([tb[-1]], [tf[-1]], marker="triangle", size=17, fill_color="black", line_color="black")
    if show_x:
        p.xaxis.ticker = FixedTicker(ticks=[0, 1, 2, 3])
        p.xaxis.major_label_standoff = 10
    if show_y:
        p.yaxis.ticker = FixedTicker(ticks=[0, 1, 2, 3, 4])
        p.yaxis.major_label_standoff = 4
    for ax in p.axis:
        ax.axis_line_color = None
        ax.major_tick_line_color = "#7F7F7F"
        ax.major_tick_out = 5
        ax.major_tick_in = 0
        ax.minor_tick_line_color = None
        ax.major_label_text_font = SANS
        ax.major_label_text_font_size = "15px"
        ax.major_label_text_color = "#7F7F7F"
    return p


kw_ = [261, 246, 246, 246]
kl_ = [19, 4, 4, 4]
rowB1 = [kobe_panel(*kobe_panels[i], kw_[i], kl_[i], 4, 13, 5, False, i == 0) for i in range(4)]
rowB2 = [kobe_panel(*kobe_panels[i + 4], kw_[i], kl_[i], 4, 5, 36, True, i == 0) for i in range(4)]

leftB = blank(157, 640)
leftB.add_layout(Label(x=20.5, y=78, text="b)", text_font=SERIF, text_font_size="22px",
                       text_align="center", text_baseline="middle"))
leftB.add_layout(Label(x=141.5, y=312, text="F/F", text_font=SANS, text_font_size="16px",
                       angle=math.pi / 2, text_align="left", text_baseline="middle"))
leftB.add_layout(Label(x=146, y=287, text="MSY", text_font=SANS, text_font_size="11px",
                       angle=math.pi / 2, text_align="left", text_baseline="middle"))
bstrip = blank(999, 29)
bstrip.add_layout(Label(x=489, y=11, text="B/B", text_font=SANS, text_font_size="16px",
                        text_align="left", text_baseline="middle"))
bstrip.add_layout(Label(x=515, y=16, text="MSY", text_font=SANS, text_font_size="11px",
                        text_align="left", text_baseline="middle"))

secB = row(leftB, column(row(*rowB1), row(*rowB2), bstrip))

# ---------------- section c ----------------
UNIT = 70.0
pie_w, pie_h, pie_top = 447, 285, 42
px0 = -89.0 / UNIT
py1 = 116.3 / UNIT
pie = figure(width=pie_w, height=pie_top + pie_h,
             x_range=Range1d(px0, px0 + pie_w / UNIT), y_range=Range1d(py1 - pie_h / UNIT, py1),
             output_backend="svg", toolbar_location=None,
             x_axis_location=None, y_axis_location=None,
             min_border_left=0, min_border_right=0, min_border_bottom=0, min_border_top=pie_top,
             outline_line_color=None)
pie.grid.visible = False
panel_r = 88.0 / UNIT
panel_t = 87.6 / UNIT
panel_b = -89.7 / UNIT
pie.add_layout(BoxAnnotation(left=px0, right=panel_r, bottom=panel_b, top=panel_t,
                             fill_color="#E5E5E5", fill_alpha=1.0, line_color=None, level="underlay"))
pie.add_layout(BoxAnnotation(left=px0, right=panel_r, bottom=panel_t, top=py1,
                             fill_color="#CCCCCC", fill_alpha=1.0, line_color=None, level="underlay"))
pie.add_layout(Label(x=(px0 + panel_r) / 2, y=(panel_t + py1) / 2, text="Combined", text_font=SANS,
                     text_font_size="14.5px", text_color="#1A1A1A",
                     text_align="center", text_baseline="middle"))
pie.circle(x=[0], y=[0], radius=79.0 / UNIT, fill_color=None, line_color="white", line_width=1.5)
KEY = 36
items = []
start = math.pi / 2
for lab, share, col in zip(pie_labels, pie_share, [RED, YEL, GRN]):
    end = start - 2 * math.pi * share
    w_r = pie.wedge(x=0, y=0, radius=1.0, start_angle=start, end_angle=end, direction="clock",
                    fill_color=col, line_color=None)
    # zero-length stroke at the pie centre: only serves as a full-size legend key
    k_r = pie.line(x=[0, 0], y=[0, 0], line_color=col, line_width=KEY, line_cap="butt")
    items.append(LegendItem(label=lab, renderers=[w_r, k_r]))
    start = end
leg = Legend(items=items, location=(199, 0), title="Kobe Quadrant",
             title_text_font=SANS, title_text_font_style="bold", title_text_font_size="14.5px",
             title_standoff=4, label_text_font=SANS, label_text_font_size="14.5px",
             label_standoff=5, glyph_width=37, glyph_height=KEY, label_height=KEY,
             spacing=0, padding=0, margin=0, border_line_color=None, background_fill_alpha=0)
pie.add_layout(leg, "center")

leftC = blank(153, 327)
leftC.add_layout(Label(x=20.5, y=53, text="c)", text_font=SERIF, text_font_size="22px",
                       text_align="center", text_baseline="middle"))
secC = row(leftC, pie)

page = column(secA, secB, secC)
open("out.html", "w").write(file_html(page, INLINE))
